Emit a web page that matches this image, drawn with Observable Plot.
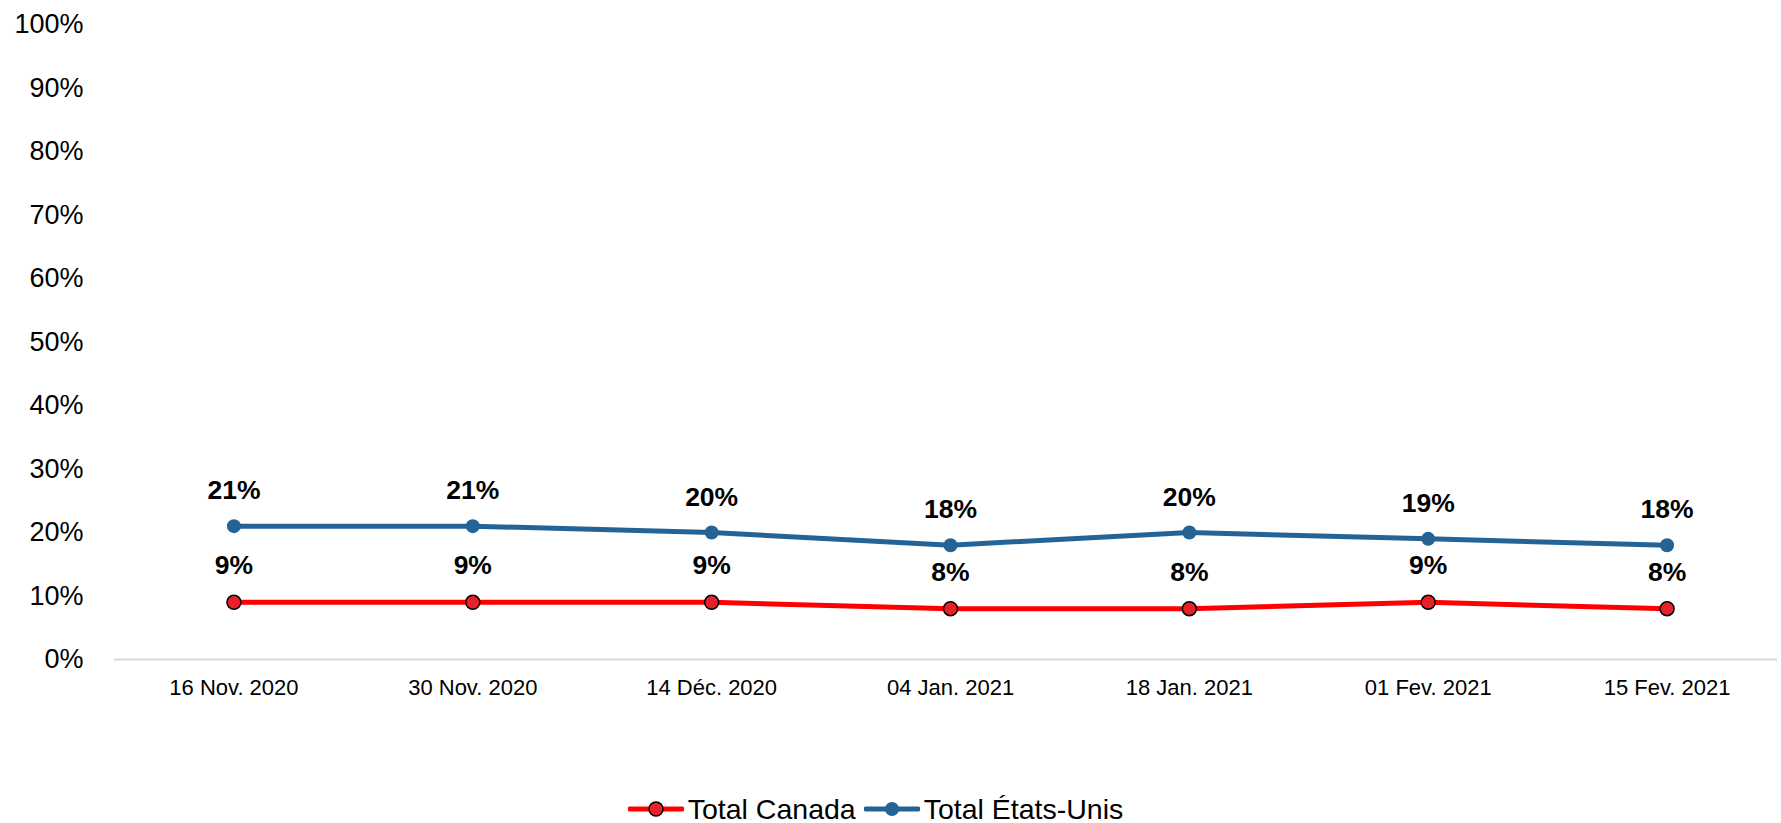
<!DOCTYPE html>
<html>
<head>
<meta charset="utf-8">
<script src="https://cdn.jsdelivr.net/npm/d3@7"></script>
<script src="https://cdn.jsdelivr.net/npm/@observablehq/plot@0.6"></script>
<style>
  html, body { margin: 0; padding: 0; background: #fff; overflow: hidden; }
  #chart svg { display: block; overflow: visible; }
  .legend { display: flex; justify-content: center; align-items: center; height: 28px;
    font-family: "Liberation Sans", Arial, sans-serif; font-size: 28.5px; color: #000; margin-left: -30px; }
  .legend .item { display: flex; align-items: center; }
  .legend svg { display: block; margin-right: 4px; }
</style>
</head>
<body>
<div id="chart"></div>
<div class="legend" id="legend"></div>
<script>
const dates = ["16 Nov. 2020", "30 Nov. 2020", "14 Déc. 2020", "04 Jan. 2021", "18 Jan. 2021", "01 Fev. 2021", "15 Fev. 2021"];
const canada = [0.09, 0.09, 0.09, 0.08, 0.08, 0.09, 0.08];
const usa = [0.21, 0.21, 0.20, 0.18, 0.20, 0.19, 0.18];
const seriesNames = ["Total Canada", "Total États-Unis"];
const yTicks = [0, 0.1, 0.2, 0.3, 0.4, 0.5, 0.6, 0.7, 0.8, 0.9, 1.0];

const RED = "#FF0000", RED_DOT = "#E8202A", BLUE = "#236396";
const font = "Liberation Sans, Arial, sans-serif";

const canData = dates.map((d, i) => ({date: d, value: canada[i]}));
const usData = dates.map((d, i) => ({date: d, value: usa[i]}));

const chart = Plot.plot({
  width: 1781,
  height: 795,
  marginLeft: 114,
  marginRight: 4,
  marginTop: 24,
  marginBottom: 136,
  style: {fontFamily: font, background: "#fff", color: "#000", overflow: "visible"},
  x: {type: "point", domain: dates, range: [114, 1786], round: false, label: null},
  y: {domain: [0, 1], label: null},
  marks: [
    Plot.ruleY([0], {stroke: "#d9d9d9", strokeWidth: 2}),
    Plot.axisY({ticks: yTicks, tickFormat: d3.format(".0%"), tickSize: 0, tickPadding: 31, fontSize: 27, label: null, fill: "#000"}),
    Plot.axisX({tickSize: 0, tickPadding: 20, fontSize: 22, label: null, fill: "#000"}),
    Plot.line(usData, {x: "date", y: "value", stroke: BLUE, strokeWidth: 5}),
    Plot.dot(usData, {x: "date", y: "value", r: 7, fill: BLUE}),
    Plot.line(canData, {x: "date", y: "value", stroke: RED, strokeWidth: 5}),
    Plot.dot(canData, {x: "date", y: "value", r: 7, fill: RED_DOT, stroke: "#000", strokeWidth: 1.5}),
    Plot.text(usData, {x: "date", y: "value", text: d => d3.format(".0%")(d.value), lineAnchor: "bottom", dy: -27, fontSize: 26.5, fontWeight: "bold", fill: "#000"}),
    Plot.text(canData, {x: "date", y: "value", text: d => d3.format(".0%")(d.value), lineAnchor: "bottom", dy: -28, fontSize: 26.5, fontWeight: "bold", fill: "#000"})
  ]
});
document.getElementById("chart").append(chart);

const legend = document.getElementById("legend");
const swatches = [
  {name: seriesNames[0], line: RED, fill: RED_DOT, stroke: "#000"},
  {name: seriesNames[1], line: BLUE, fill: BLUE, stroke: "none"}
];
swatches.forEach((s, i) => {
  const item = document.createElement("div");
  item.className = "item";
  if (i > 0) item.style.marginLeft = "8px";
  item.innerHTML = `<svg width="56" height="20" viewBox="0 0 56 20">
    <line x1="2" y1="10" x2="54" y2="10" stroke="${s.line}" stroke-width="5" stroke-linecap="round"/>
    <circle cx="28" cy="10" r="7" fill="${s.fill}" stroke="${s.stroke}" stroke-width="1.5"/>
  </svg><span>${s.name}</span>`;
  legend.append(item);
});
</script>
</body>
</html>
